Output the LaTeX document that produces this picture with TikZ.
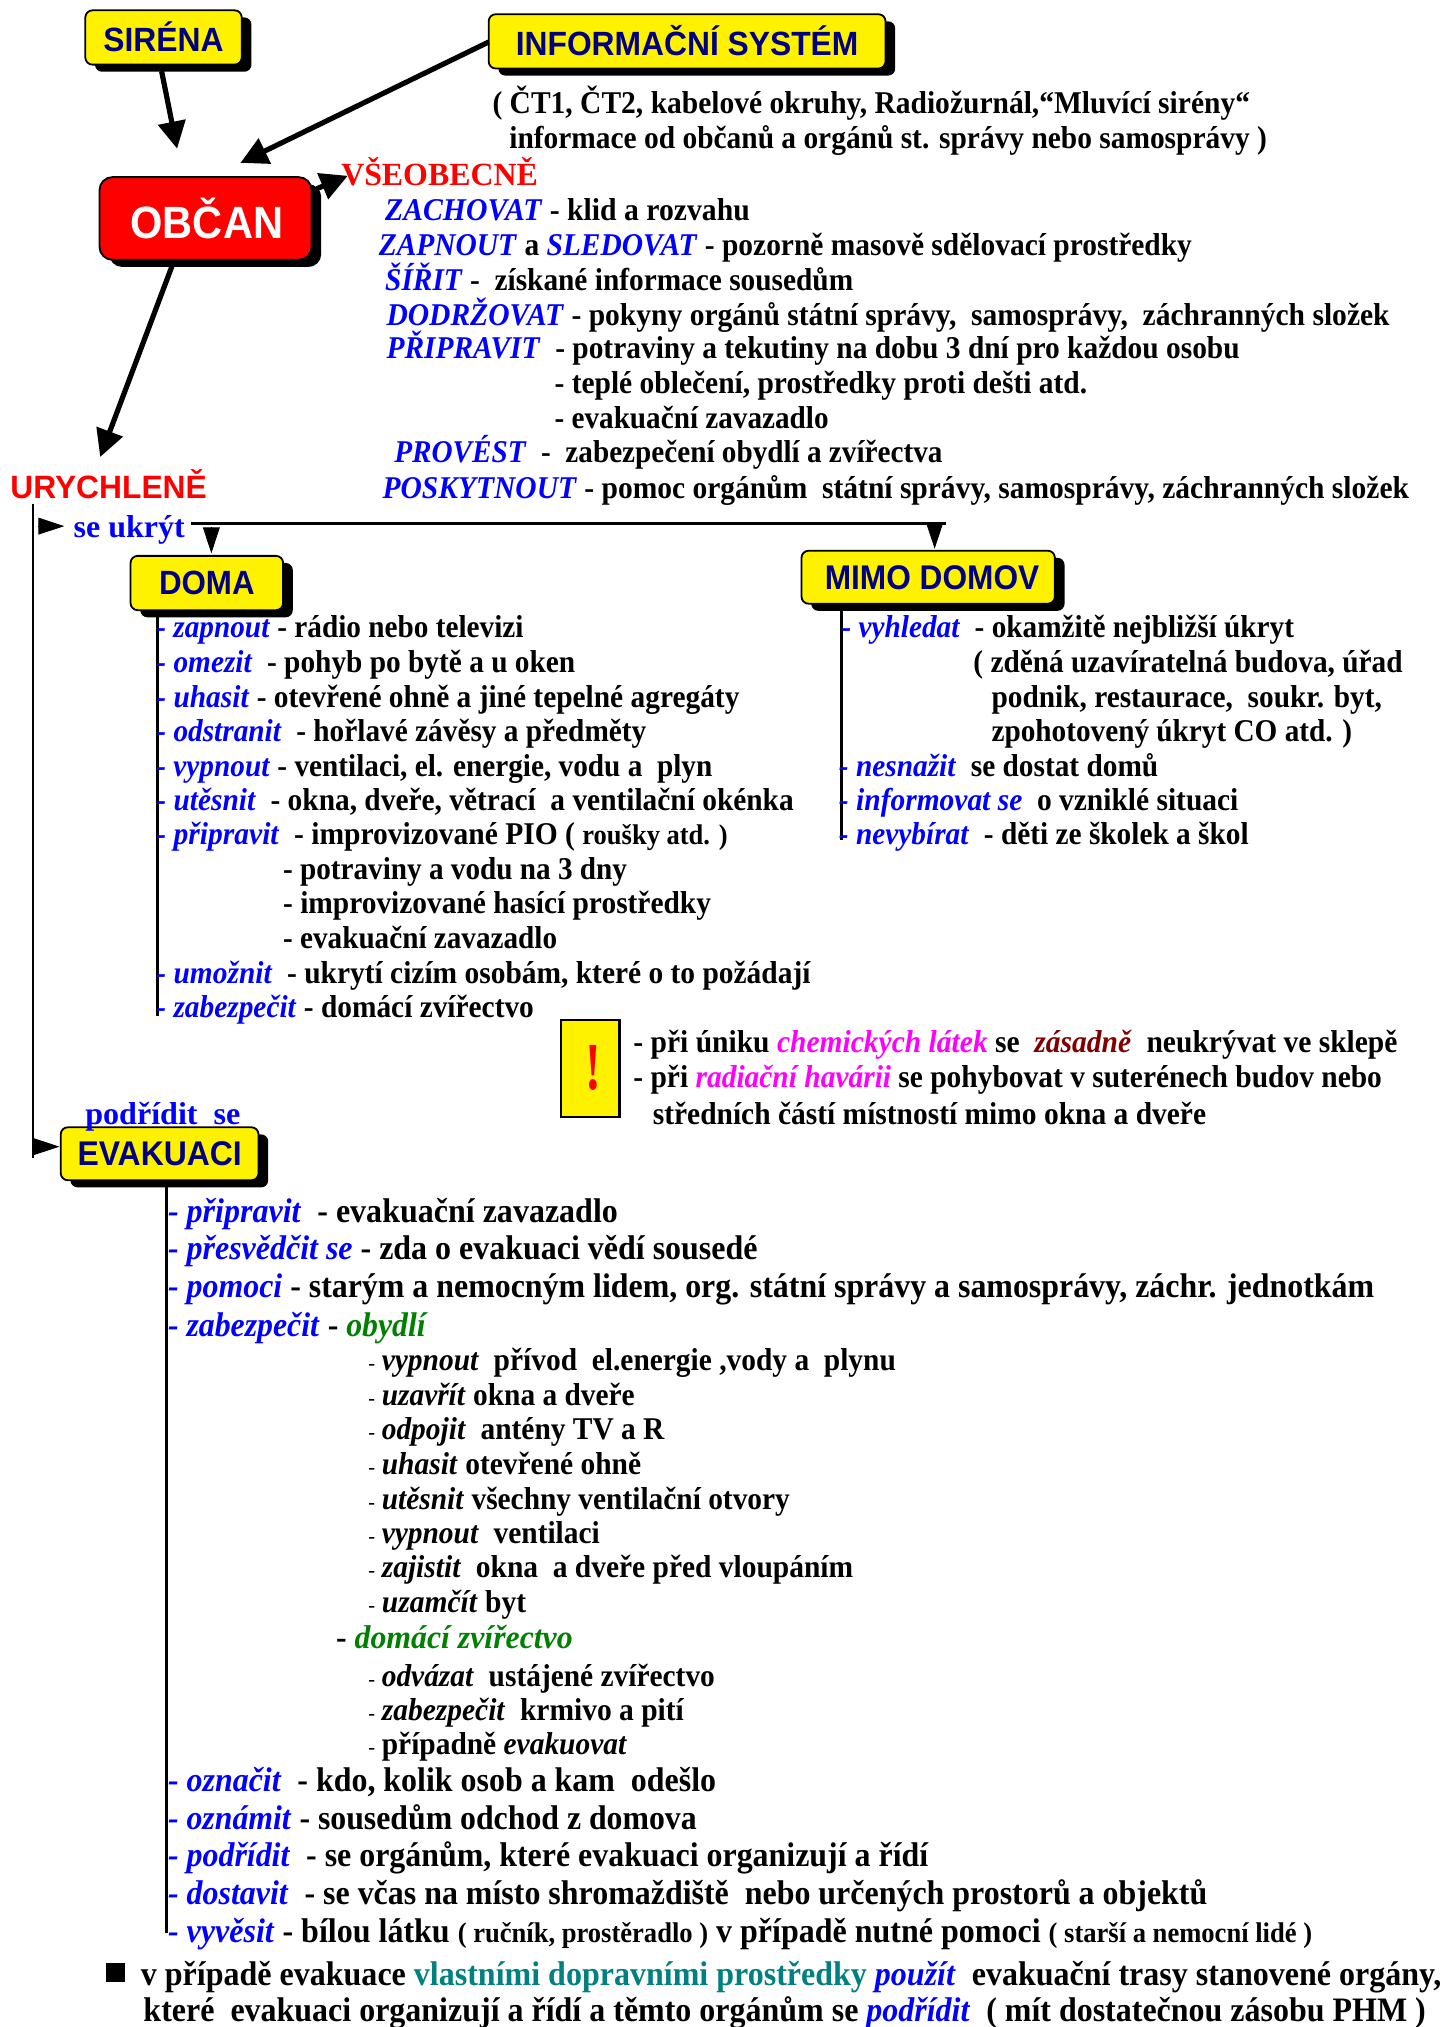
\documentclass[tikz,border=0pt]{standalone}
\usepackage{fontspec}
\setmainfont{Liberation Serif}
\newfontfamily\sansf{Liberation Sans}
\usetikzlibrary{shadows,arrows.meta,calc}
\definecolor{navyb}{RGB}{0,0,128}
\definecolor{grn}{RGB}{0,128,0}
\definecolor{tealc}{RGB}{0,128,128}
\definecolor{mag}{RGB}{255,0,255}
\definecolor{dred}{RGB}{128,0,0}
\newcommand{\vb}[1]{\textcolor{blue}{\textit{#1}}}
\newcommand{\ub}[1]{\textcolor{blue}{#1}}
\newcommand{\sma}[1]{{\fontsize{22}{22}\selectfont #1}}
\newcommand{\dsh}{{\mdseries\fontsize{17}{17}\selectfont -\hspace{5.5pt}}}
\newcommand{\Ln}[6][24.5]{\node[linetxt] (#2) at ({#3},{#5+0.5}) {\fontsize{#1}{#1}\selectfont\resizebox{\dimexpr#4pt-#3pt\relax}{\height}{#6}};}
\newcommand{\Bx}[7]{\node[#2] (#1) at ({(#3+#4)/2},{(#5+#6)/2}) [minimum width={(#4-#3)*1pt},minimum height={(#6-#5)*1pt}] {#7};}
\newcommand{\St}[3]{\fontsize{#1}{#1}\selectfont\resizebox{#2pt}{\height}{#3}}
\tikzset{
  linetxt/.style={anchor=base west,inner sep=0pt,outer sep=0pt,font=\bfseries},
  boxy/.style={draw=black,line width=1.4pt,rounded corners=5.5pt,fill=yellow,inner sep=0pt,outer sep=0pt,
    text=navyb,font=\sansf\bfseries,
    drop shadow={shadow xshift=7.5pt,shadow yshift=-5.5pt,fill=black,opacity=1}},
  redbox/.style={boxy,rounded corners=10pt,fill=red,text=white},
  warnbox/.style={draw=black,line width=2pt,fill=yellow,inner sep=0pt,outer sep=0pt,text=red},
  bigarrow/.style={line width=4pt,draw=black,-{Triangle[length=21pt,width=21pt]}},
  thinline/.style={line width=2.2pt,draw=black},
  minitip/.style={line width=0.6pt,draw=black,fill=black,-{Triangle[length=20pt,width=13pt]}},
  bulletsq/.style={fill=black,inner sep=0pt,outer sep=0pt,minimum width=15pt,minimum height=14.5pt}
}
\begin{document}
\begin{tikzpicture}[x=1pt,y=-1pt]
\useasboundingbox (0,0) rectangle (1119,1568);
% boxes
\Bx{sirena}{boxy}{66}{187}{8}{50}{\raisebox{1pt}{\St{26}{93}{SIRÉNA}}}
\Bx{info}{boxy}{378}{685}{11}{53}{\raisebox{1pt}{\St{26}{265}{INFORMAČNÍ SYSTÉM}}}
\Bx{obcan}{redbox}{77}{241}{137}{201}{\hspace{2pt}\St{35}{118}{OBČAN}}
\Bx{doma}{boxy}{101}{219}{430}{472}{\raisebox{1pt}{\St{26}{74}{DOMA}}}
\Bx{mimo}{boxy}{620}{816}{426}{467}{\hspace{6pt}\St{26.5}{166}{MIMO DOMOV}}
\Bx{evakuaci}{boxy}{47}{200}{872}{913}{\raisebox{-1pt}{\St{26.5}{127}{EVAKUACI}}}
\Bx{warn}{warnbox}{434}{479}{789}{864}{\hspace{5pt}\fontsize{52}{52}\selectfont\scalebox{0.7}[1]{\textbf{!}}}
% headings
\Ln[25]{vseob}{264}{416}{143}{\textcolor{red}{VŠEOBECNĚ}}
\node[linetxt] (urych) at (8,385.5) {\sansf\fontsize{25}{25}\selectfont\resizebox{152pt}{\height}{\textcolor{red}{URYCHLENĚ}}};
\Ln{seukryt}{57}{143}{415}{\ub{se ukrýt}}
\Ln{podridit}{66}{186}{869}{\ub{podřídit~~se}}
% arrows
\draw[bigarrow] ($(sirena.south)+(-1.5,5)$) -- ($(obcan.north)+(-22,-22)$);
\draw[bigarrow] (info.west) ++(0,0.5) -- ($(obcan.north)+(27,-11)$);
\draw[bigarrow] ($(obcan.north east)+(4,9)$) -- ($(obcan.north east)+(28,-1)$);
\draw[bigarrow] ($(obcan.south)+(-26,5)$) -- ($(urych.base west)+(69.5,-32)$);
% branch lines
\draw[thinline] ($(urych.base west)+(17.5,4)$) -- ($(evakuaci.west)+(-21.5,3.5)$);
\draw[line width=3pt,draw=black] ($(seukryt.base east)+(5,-10.5)$) -- ($(mimo.north)+(14,-21)$);
\draw[thinline] ($(doma.south west)+(21,5)$) -- ($(doma.south west)+(21,314)$);
\draw[thinline] ($(mimo.south west)+(31,5)$) -- ($(mimo.south west)+(31,183)$);
\draw[line width=2.4pt,draw=black] ($(evakuaci.south west)+(81.5,5)$) -- ($(evakuaci.south west)+(81.5,582)$);
% small arrowheads
\draw[minitip] ($(seukryt.base west)+(-27.5,-8.5)$) -- ($(seukryt.base west)+(-7.3,-8.5)$);
\draw[minitip] ($(evakuaci.west)+(-21.5,-5.5)$) -- ($(evakuaci.west)+(-1,-5.5)$);
\draw[minitip] ($(doma.north)+(3.5,-22)$) -- ($(doma.north)+(3.5,-2)$);
\draw[minitip] ($(mimo.north)+(5,-21.5)$) -- ($(mimo.north)+(5,-1.5)$);
% top texts
\Ln{a1}{381}{967}{87}{( ČT1, ČT2, kabelové okruhy, Radiožurnál,“Mluvící sirény“}
\Ln{a2}{394}{980}{114}{informace od občanů a orgánů st. správy nebo samosprávy )}
\Ln{b1}{298}{580}{170}{\vb{ZACHOVAT} - klid a rozvahu}
\Ln{b2}{293}{922}{197}{\vb{ZAPNOUT} a \vb{SLEDOVAT} - pozorně masově sdělovací prostředky}
\Ln{b3}{298}{660}{224}{\vb{ŠÍŘIT} -~ získané informace sousedům}
\Ln{b4}{299}{1075}{251}{\vb{DODRŽOVAT} - pokyny orgánů státní správy,~ samosprávy,~ záchranných složek}
\Ln{b5}{299}{959}{277}{\vb{PŘIPRAVIT}~ - potraviny a tekutiny na dobu 3 dní pro každou osobu}
\Ln{b6}{429}{841}{304}{- teplé oblečení, prostředky proti dešti atd.}
\Ln{b7}{429}{641}{331}{- evakuační zavazadlo}
\Ln{b8}{305}{729}{357}{\vb{PROVÉST}~ -~ zabezpečení obydlí a zvířectva}
\Ln{b9}{296}{1090}{385}{\vb{POSKYTNOUT} - pomoc orgánům~ státní správy, samosprávy, záchranných složek}
% doma
\Ln{c1}{121}{405}{493}{\vb{- zapnout} - rádio nebo televizi}
\Ln{c2}{121}{445}{520}{\vb{- omezit}~ - pohyb po bytě a u oken}
\Ln{c3}{121}{572}{546.5}{\vb{- uhasit} - otevřené ohně a jiné tepelné agregáty}
\Ln{c4}{121}{500}{573}{\vb{- odstranit}~ - hořlavé závěsy a předměty}
\Ln{c5}{121}{551}{600}{\vb{- vypnout} - ventilaci, el. energie, vodu a~ plyn}
\Ln{c6}{121}{614}{626.5}{\vb{- utěsnit}~ - okna, dveře, větrací~ a ventilační okénka}
\Ln{c7}{121}{563}{653}{\vb{- připravit}~ - improvizované PIO ( \sma{roušky atd. )}}
\Ln{c8}{219}{485}{680}{- potraviny a vodu na 3 dny}
\Ln{c9}{219}{550}{706.5}{- improvizované hasící prostředky}
\Ln{c10}{219}{431}{733}{- evakuační zavazadlo}
\Ln{c11}{121}{627}{760}{\vb{- umožnit}~ - ukrytí cizím osobám, které o to požádají}
\Ln{c12}{121}{413}{786.5}{\vb{- zabezpečit} - domácí zvířectvo}
% mimo
\Ln{d1}{651}{1001}{493}{\vb{- vyhledat}~ - okamžitě nejbližší úkryt}
\Ln{d2}{753}{1085}{520}{( zděná uzavíratelná budova, úřad}
\Ln{d3}{767}{1069}{546.5}{podnik, restaurace,~ soukr. byt,}
\Ln{d4}{767}{1046}{573}{zpohotovený úkryt CO atd. )}
\Ln{d5}{649}{896}{600}{\vb{- nesnažit}~ se dostat domů}
\Ln{d6}{649}{958}{626.5}{\vb{- informovat se}~ o vzniklé situaci}
\Ln{d7}{649}{966}{653}{\vb{- nevybírat}~ - děti ze školek a škol}
% warning
\Ln{e1}{490}{1081}{813.5}{- při úniku \textcolor{mag}{\textit{chemických látek}} se~ \textcolor{dred}{\textit{zásadně}}~ neukrývat ve sklepě}
\Ln{e2}{490}{1069}{841}{- při \textcolor{mag}{\textit{radiační havárii}} se pohybovat v suterénech budov nebo}
\Ln{e3}{505}{933}{869.5}{středních částí místností mimo okna a dveře}
% evakuace
\Ln[26.5]{f1}{130}{478}{945}{\vb{- připravit}~ - evakuační zavazadlo}
\Ln[26.5]{f2}{130}{586}{974}{\vb{- přesvědčit se} - zda o evakuaci vědí sousedé}
\Ln[26.5]{f3}{130}{1063}{1003}{\vb{- pomoci} - starým a nemocným lidem, org. státní správy a samosprávy, záchr. jednotkám}
\Ln[26.5]{f4}{130}{331}{1033}{\vb{- zabezpečit} - \textcolor{grn}{\textit{obydlí}}}
\Ln{g1}{285}{693}{1060}{\dsh\textit{vypnout}~ přívod~ el.energie ,vody a~ plynu}
\Ln{g2}{285}{491}{1086.5}{\dsh\textit{uzavřít} okna a dveře}
\Ln{g3}{285}{514}{1113}{\dsh\textit{odpojit}~ antény TV a R}
\Ln{g4}{285}{496}{1140}{\dsh\textit{uhasit} otevřené ohně}
\Ln{g5}{285}{611}{1167}{\dsh\textit{utěsnit} všechny ventilační otvory}
\Ln{g6}{285}{464}{1193.5}{\dsh\textit{vypnout}~ ventilaci}
\Ln{g7}{285}{660}{1220}{\dsh\textit{zajistit}~ okna~ a dveře před vloupáním}
\Ln{g8}{285}{407}{1247}{\dsh\textit{uzamčít} byt}
\Ln[25.5]{g9}{260}{443}{1275}{- \textcolor{grn}{\textit{domácí zvířectvo}}}
\Ln{g10}{285}{553}{1304}{\dsh\textit{odvázat}~ ustájené zvířectvo}
\Ln{g11}{285}{529}{1330.5}{\dsh\textit{zabezpečit}~ krmivo a pití}
\Ln{g12}{285}{485}{1357}{\dsh případně \textit{evakuovat}}
\Ln[26.5]{f5}{130}{554}{1385}{\vb{- označit}~ - kdo, kolik osob a kam~ odešlo}
\Ln[26.5]{f6}{130}{539}{1415}{\vb{- oznámit} - sousedům odchod z domova}
\Ln[26.5]{f7}{130}{718}{1443.5}{\vb{- podřídit}~ - se orgánům, které evakuaci organizují a řídí}
\Ln[26.5]{f8}{130}{934}{1473}{\vb{- dostavit}~ - se včas na místo shromaždiště~ nebo určených prostorů a objektů}
\Ln[26.5]{f9}{130}{1015}{1502.5}{\vb{- vyvěsit} - bílou látku \sma{( ručník, prostěradlo )} v případě nutné pomoci \sma{( starší a nemocní lidé )}}
\node[bulletsq] (sq) at (89.5,1526) {};
\Ln[26.5]{h1}{109}{1115}{1535.5}{v případě evakuace \textcolor{tealc}{vlastními dopravními prostředky} \vb{použít}~ evakuační trasy stanovené orgány,}
\Ln[26.5]{h2}{111}{1103}{1563.5}{které~ evakuaci organizují a řídí a těmto orgánům se \vb{podřídit}~ ( mít dostatečnou zásobu PHM )}
\end{tikzpicture}
\end{document}
